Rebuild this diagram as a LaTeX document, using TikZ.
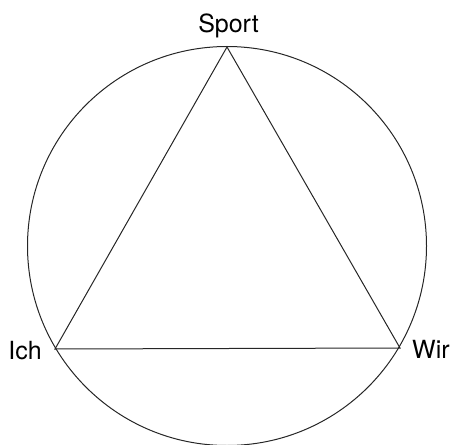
\documentclass[tikz,border=0pt]{standalone}
\usepackage{fontspec}
\setmainfont{TeX Gyre Heros}
\begin{document}
\begin{tikzpicture}[x=1pt,y=-1pt,
  line/.style={line width=1pt,black!85},
  lbl/.style={inner sep=0pt,font=\fontsize{25}{29}\selectfont}]
\useasboundingbox (0,0) rectangle (452,444);
\node[line,draw,circle,minimum size=399pt,inner sep=0pt] (ring) at (227,246) {};
\coordinate (top) at (227,47);
\coordinate (left) at (55,349);
\coordinate (right) at (400,348);
\draw[line,line join=miter] (top) -- (left) -- (right) -- cycle;
\node[lbl,anchor=base] (sport) at (228.5,33) {Sport};
\node[lbl,anchor=base east] (ich) at (42,359) {Ich};
\node[lbl,anchor=base west] (wir) at (412,358) {Wir};
\end{tikzpicture}
\end{document}
